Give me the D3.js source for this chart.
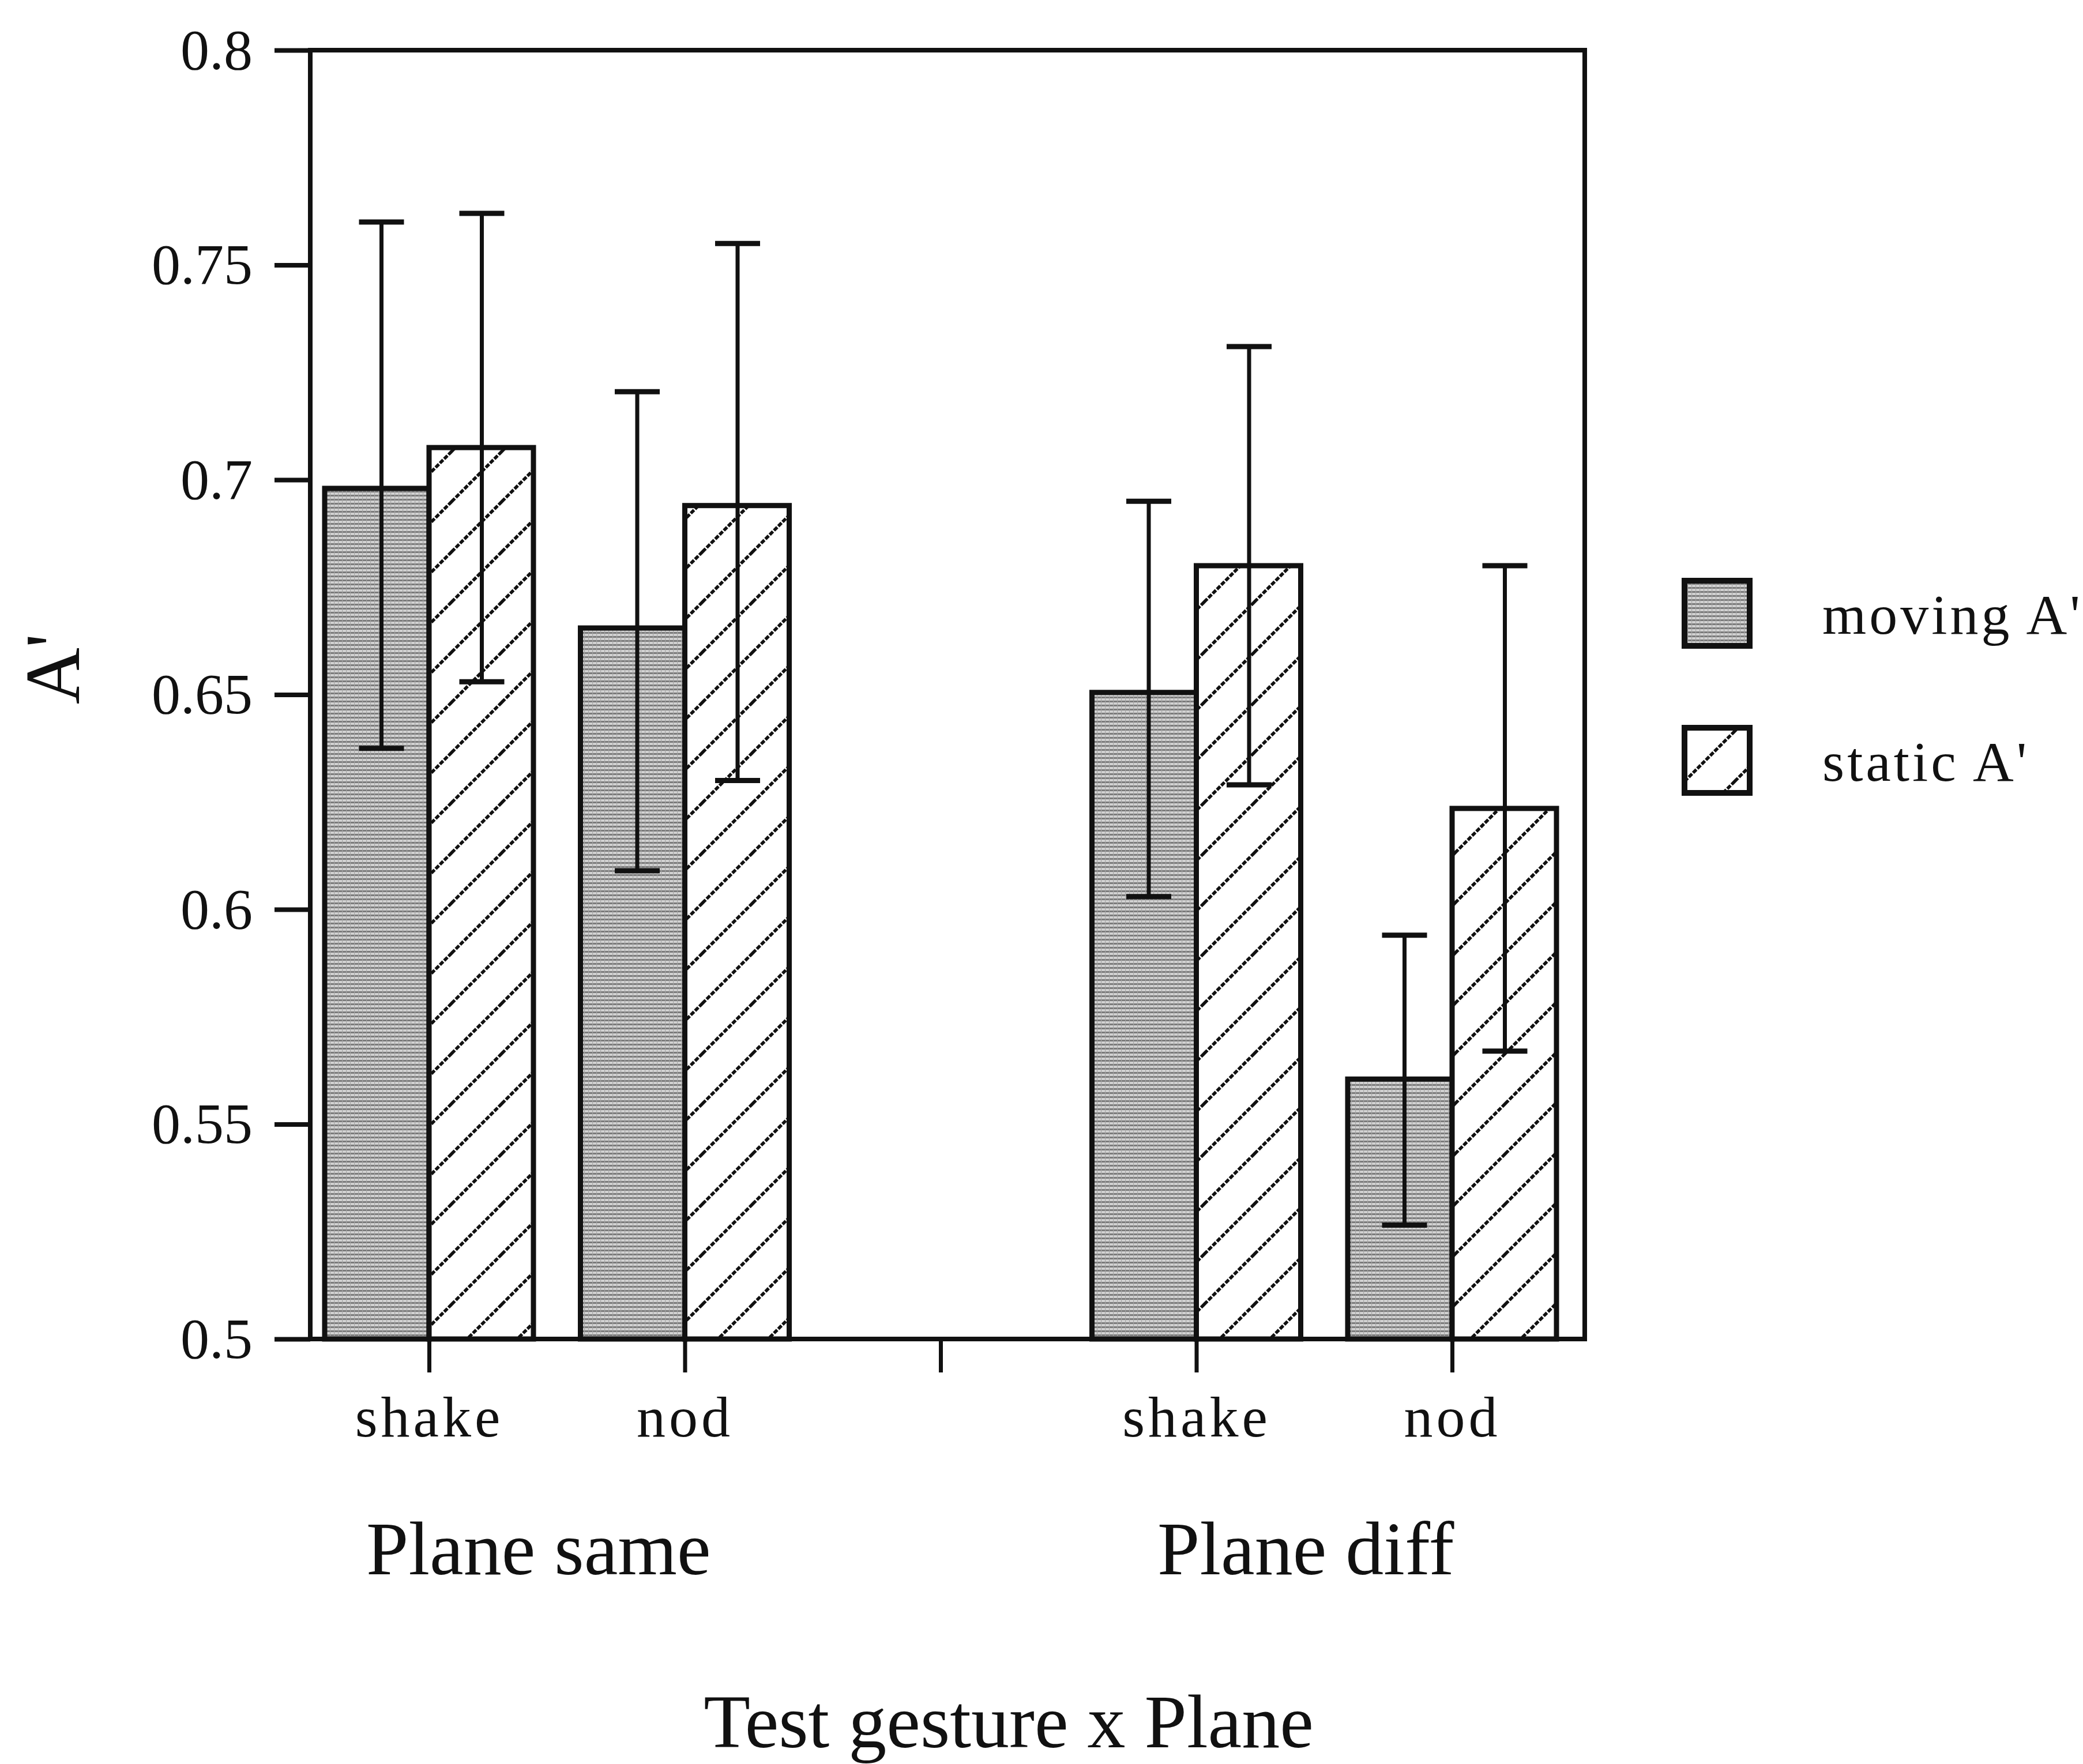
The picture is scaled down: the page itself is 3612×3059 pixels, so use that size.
<!DOCTYPE html>
<html>
<head>
<meta charset="utf-8">
<script src="https://cdn.jsdelivr.net/npm/d3@7"></script>
<style>
  html, body { margin: 0; padding: 0; background: #fff; }
  text { font-family: "Liberation Serif", "Times New Roman", serif; fill: #111; }
</style>
</head>
<body>
<svg id="graphique"></svg>
<script>
// slots on the x axis (the middle one is the empty separator)
var slots = ["same-shake", "same-nod", "sep", "diff-shake", "diff-nod"];
var tickLabels = ["shake", "nod", "", "shake", "nod"];
var groups = ["Plane same", "Plane diff"];
var groupSlots = [["same-shake", "same-nod"], ["diff-shake", "diff-nod"]];
var seriesNames = ["moving A'", "static A'"];
var barSlots = ["same-shake", "same-nod", "diff-shake", "diff-nod"];

// values
var movingMean = [0.698, 0.6655, 0.6505, 0.5605];
var movingHigh = [0.760, 0.7205, 0.695, 0.594];
var movingLow  = [0.6375, 0.609, 0.603, 0.5265];
var staticMean = [0.7075, 0.694, 0.680, 0.6235];
var staticHigh = [0.762, 0.755, 0.731, 0.680];
var staticLow  = [0.653, 0.630, 0.629, 0.567];

var yTicks = [0.5, 0.55, 0.6, 0.65, 0.7, 0.75, 0.8];

var WIDTH = 3612, HEIGHT = 3059;
var FRAME = { left: 538, right: 2748, top: 87, bottom: 2322 };

var svg = d3.select("#graphique").attr("width", WIDTH).attr("height", HEIGHT);
svg.append("rect").attr("width", WIDTH).attr("height", HEIGHT).attr("fill", "#fff");

var defs = svg.append("defs");

// fine grey screen for "moving"
var pMov = defs.append("pattern").attr("id", "pat-moving")
  .attr("patternUnits", "userSpaceOnUse").attr("width", 7).attr("height", 7);
pMov.append("rect").attr("width", 7).attr("height", 7).attr("fill", "#d2d2d2");
pMov.append("rect").attr("y", 4).attr("width", 7).attr("height", 3).attr("fill", "#7a7a7a");
pMov.append("rect").attr("x", 5).attr("width", 1.2).attr("height", 7).attr("fill", "#a5a5a5");

// diagonal hatch for "static"
var H = 87;
var pSta = defs.append("pattern").attr("id", "pat-static")
  .attr("patternUnits", "userSpaceOnUse").attr("width", H).attr("height", H);
pSta.append("rect").attr("width", H).attr("height", H).attr("fill", "#fff");
pSta.append("path")
  .attr("d", "M0," + H + " L" + H + ",0 M-10,10 L10,-10 M" + (H - 10) + "," + (H + 10) + " L" + (H + 10) + "," + (H - 10))
  .attr("stroke", "#111").attr("stroke-width", 5.5).attr("stroke-dasharray", "8,2.5");

var xScale = d3.scalePoint().domain(slots).range([744, 2518]);
var yScale = d3.scaleLinear().domain([0.5, 0.8]).range([FRAME.bottom, FRAME.top]);
var barW = 181;

// bars
var series = [
  { name: seriesNames[0], mean: movingMean, hi: movingHigh, lo: movingLow, fill: "url(#pat-moving)", side: -1, errShift: 8 },
  { name: seriesNames[1], mean: staticMean, hi: staticHigh, lo: staticLow, fill: "url(#pat-static)", side: 0, errShift: 1 }
];

series.forEach(function (s) {
  barSlots.forEach(function (slot, i) {
    var x0 = xScale(slot) + s.side * barW;
    svg.append("rect")
      .attr("x", x0)
      .attr("y", yScale(s.mean[i]))
      .attr("width", barW)
      .attr("height", yScale(0.5) - yScale(s.mean[i]))
      .attr("fill", s.fill)
      .attr("stroke", "#111")
      .attr("stroke-width", 9);
  });
});

// error bars
series.forEach(function (s) {
  barSlots.forEach(function (slot, i) {
    var cx = xScale(slot) + s.side * barW + barW / 2 + s.errShift;
    svg.append("line")
      .attr("x1", cx).attr("x2", cx)
      .attr("y1", yScale(s.hi[i])).attr("y2", yScale(s.lo[i]))
      .attr("stroke", "#111").attr("stroke-width", 7);
    [s.hi[i], s.lo[i]].forEach(function (v) {
      svg.append("line")
        .attr("x1", cx - 39).attr("x2", cx + 39)
        .attr("y1", yScale(v)).attr("y2", yScale(v))
        .attr("stroke", "#111").attr("stroke-width", 9);
    });
  });
});

// frame
svg.append("rect")
  .attr("x", FRAME.left).attr("y", FRAME.top)
  .attr("width", FRAME.right - FRAME.left).attr("height", FRAME.bottom - FRAME.top)
  .attr("fill", "none").attr("stroke", "#111").attr("stroke-width", 8);

// y axis
var yAxis = d3.axisLeft(yScale).tickValues(yTicks).tickSize(62).tickPadding(38)
  .tickFormat(function (d) { return String(+d.toFixed(2)); });
var gy = svg.append("g").attr("transform", "translate(" + FRAME.left + ",0)").call(yAxis);
gy.select(".domain").remove();
gy.selectAll(".tick line").attr("stroke", "#111").attr("stroke-width", 8);
gy.selectAll(".tick text").attr("font-size", 100).attr("font-family", "Liberation Serif").attr("fill", "#111");

// x axis
var xAxis = d3.axisBottom(xScale).tickSize(58).tickPadding(40)
  .tickFormat(function (d, i) { return tickLabels[i]; });
var gx = svg.append("g").attr("transform", "translate(0," + FRAME.bottom + ")").call(xAxis);
gx.select(".domain").remove();
gx.selectAll(".tick line").attr("stroke", "#111").attr("stroke-width", 7);
gx.selectAll(".tick text").attr("font-size", 100).attr("font-family", "Liberation Serif")
  .attr("fill", "#111").attr("letter-spacing", 6).attr("dy", "0.71em");

// group labels
groups.forEach(function (g, i) {
  var mid = (xScale(groupSlots[i][0]) + xScale(groupSlots[i][1])) / 2;
  svg.append("text")
    .attr("x", mid - 32).attr("y", 2730)
    .attr("text-anchor", "middle").attr("font-size", 132)
    .text(g);
});

// axis titles
svg.append("text")
  .attr("x", 1749).attr("y", 3030)
  .attr("text-anchor", "middle").attr("font-size", 132)
  .text("Test gesture x Plane");

svg.append("text")
  .attr("transform", "translate(137,1160) rotate(-90)")
  .attr("text-anchor", "middle").attr("font-size", 136)
  .text("A'");

// legend
var legend = svg.append("g").attr("transform", "translate(2921,1007)");
series.forEach(function (s, i) {
  legend.append("rect")
    .attr("x", 0).attr("y", i * 255)
    .attr("width", 113).attr("height", 113)
    .attr("fill", s.fill).attr("stroke", "#111").attr("stroke-width", 10);
  legend.append("text")
    .attr("x", 239).attr("y", i * 255 + 92)
    .attr("font-size", 98).attr("letter-spacing", 5)
    .text(s.name);
});
</script>
</body>
</html>
